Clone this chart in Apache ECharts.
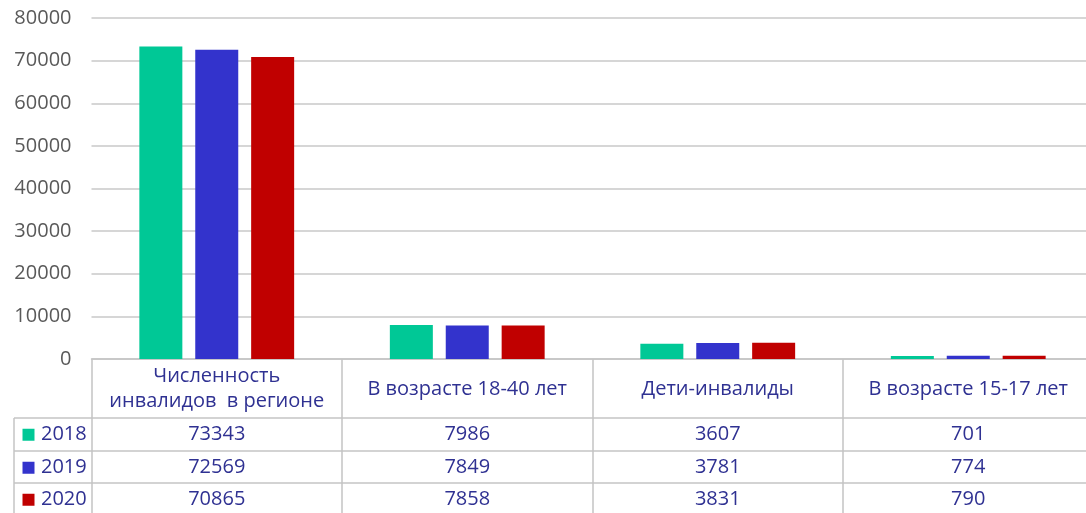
<!DOCTYPE html>
<html>
<head>
<meta charset="utf-8">
<script src="https://cdn.jsdelivr.net/npm/echarts@6/dist/echarts.min.js"></script>
<style>
  html, body { margin: 0; padding: 0; background: #fff; }
  #chart { width: 1086px; height: 513px; }
</style>
</head>
<body>
<div id="chart"></div>
<script>
// Categories (table header) and yearly series
const categories = ['Численность\nинвалидов  в регионе', 'В возрасте 18-40 лет', 'Дети-инвалиды', 'В возрасте 15-17 лет'];
const years = ['2018', '2019', '2020'];
const values2018 = [73343, 7986, 3607, 701];
const values2019 = [72569, 7849, 3781, 774];
const values2020 = [70865, 7858, 3831, 790];
const yTicks = { min: 0, max: 80000, interval: 10000 };

const seriesValues = [values2018, values2019, values2020];
const colors = ['#00C896', '#3333CC', '#C00000'];

const FONT = '"Open Sans", "DejaVu Sans", sans-serif';
const TABLE_TEXT = '#2F3192';
const LINE = '#C4C4C4';

// Layout of the plot and its data table (the plot runs past the right edge)
const GRID = { left: 91.5, width: 1002, top: 18, bottom: 154 };
const TABLE = { keyLeft: 14, rowTops: [418, 451, 483], rowHeight: 32.5, bottom: 520 };

const chart = echarts.init(document.getElementById('chart'), null, { renderer: 'canvas' });

chart.setOption({
  animation: false,
  backgroundColor: '#fff',
  grid: {
    left: GRID.left, width: GRID.width, top: GRID.top, bottom: GRID.bottom,
    containLabel: false, outerBoundsMode: 'none'
  },
  xAxis: {
    type: 'category',
    data: categories,
    axisLine: { show: true, lineStyle: { color: LINE, width: 1.5 } },
    axisTick: { show: true, interval: 0, alignWithLabel: false, length: 160, lineStyle: { color: LINE, width: 1.5 } },
    axisLabel: {
      interval: 0, margin: 30, verticalAlign: 'middle', align: 'center',
      color: TABLE_TEXT, fontFamily: FONT, fontSize: 20, lineHeight: 25
    },
    splitLine: { show: false }
  },
  yAxis: {
    type: 'value',
    min: yTicks.min, max: yTicks.max, interval: yTicks.interval,
    axisLine: { show: false },
    axisTick: { show: false },
    axisLabel: { color: '#595959', fontFamily: FONT, fontSize: 20, margin: 20, formatter: v => String(v) },
    splitLine: { lineStyle: { color: '#C8C8C8', width: 1.5 } }
  },
  series: years.map((y, i) => ({
    name: y,
    type: 'bar',
    data: seriesValues[i],
    barWidth: 43,
    barGap: '30%',
    itemStyle: { color: colors[i] }
  }))
});

// Data table below the axis: row rules, legend keys and values
function buildTable() {
  const step = chart.convertToPixel({ xAxisIndex: 0 }, 1) - chart.convertToPixel({ xAxisIndex: 0 }, 0);
  const firstCenter = chart.convertToPixel({ xAxisIndex: 0 }, 0);
  const rightEdge = firstCenter + (categories.length - 0.5) * step;
  const els = [];

  // horizontal rules between rows
  TABLE.rowTops.forEach(top => {
    els.push({
      type: 'line', silent: true,
      shape: { x1: TABLE.keyLeft, y1: top, x2: rightEdge, y2: top },
      style: { stroke: LINE, lineWidth: 1.5 }
    });
  });
  // left border of the key column
  els.push({
    type: 'line', silent: true,
    shape: { x1: TABLE.keyLeft, y1: TABLE.rowTops[0], x2: TABLE.keyLeft, y2: TABLE.bottom },
    style: { stroke: LINE, lineWidth: 1.5 }
  });

  years.forEach((y, r) => {
    const cy = TABLE.rowTops[r] + TABLE.rowHeight / 2 + 0.5;
    els.push({
      type: 'rect', silent: true,
      shape: { x: 22.5, y: cy - 6, width: 12, height: 12 },
      style: { fill: colors[r] }
    });
    els.push({
      type: 'text', silent: true,
      style: {
        x: 41, y: cy, text: y, align: 'left', verticalAlign: 'middle',
        fill: TABLE_TEXT, font: '20px ' + FONT
      }
    });
    seriesValues[r].forEach((v, c) => {
      els.push({
        type: 'text', silent: true,
        style: {
          x: chart.convertToPixel({ xAxisIndex: 0 }, c), y: cy, text: String(v),
          align: 'center', verticalAlign: 'middle',
          fill: TABLE_TEXT, font: '20px ' + FONT
        }
      });
    });
  });
  chart.setOption({ graphic: els });
}
buildTable();
</script>
</body>
</html>
